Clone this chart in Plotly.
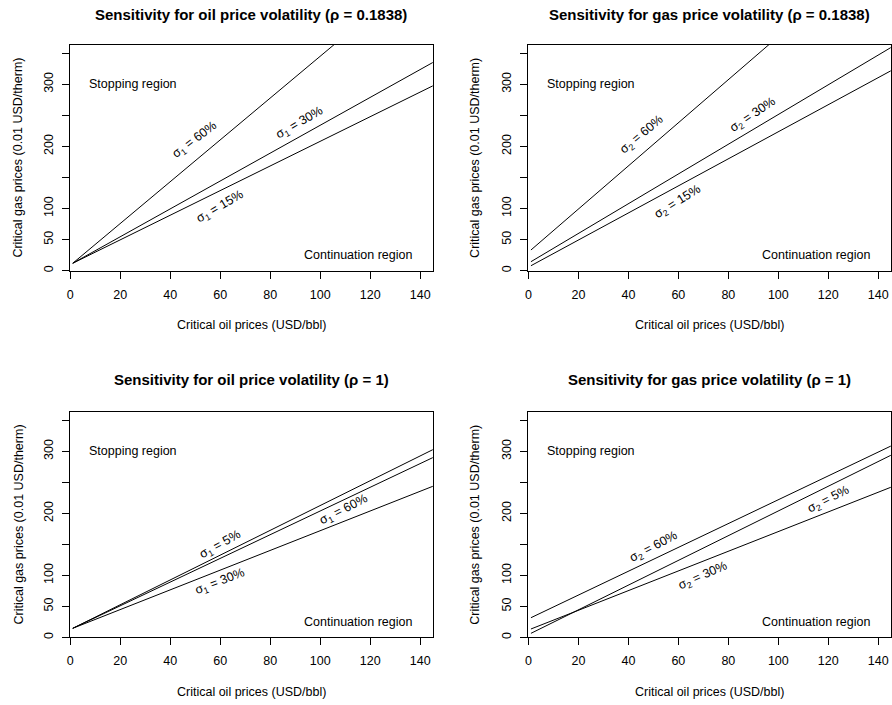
import plotly.graph_objects as go

# ---- data ----
x_ends = [1, 145]

titles = [
    "Sensitivity for oil price volatility (ρ = 0.1838)",
    "Sensitivity for gas price volatility (ρ = 0.1838)",
    "Sensitivity for oil price volatility (ρ = 1)",
    "Sensitivity for gas price volatility (ρ = 1)",
]

# panel 1: oil volatility, rho = 0.1838
p1_labels = ["σ<sub>1</sub> = 15%", "σ<sub>1</sub> = 30%", "σ<sub>1</sub> = 60%"]
p1_y = [[12, 297.4], [12, 335], [12, 496.6]]
p1_lab_x = [60, 92, 50]
p1_lab_y = [103, 237, 210]
p1_lab_ang = [30, 30, 37]

# panel 2: gas volatility, rho = 0.1838
p2_labels = ["σ<sub>2</sub> = 15%", "σ<sub>2</sub> = 30%", "σ<sub>2</sub> = 60%"]
p2_y = [[8, 321.6], [14.5, 359], [33.3, 533]]
p2_lab_x = [60, 90, 45.4]
p2_lab_y = [110, 250.7, 218.5]
p2_lab_ang = [32, 34, 40]

# panel 3: oil volatility, rho = 1
p3_labels = ["σ<sub>1</sub> = 5%", "σ<sub>1</sub> = 30%", "σ<sub>1</sub> = 60%"]
p3_y = [[14.5, 302.7], [14.5, 243.6], [14.5, 289.9]]
p3_lab_x = [60, 60, 109.6]
p3_lab_y = [148.6, 89.5, 205]
p3_lab_ang = [29, 21, 27]

# panel 4: gas volatility, rho = 1
p4_labels = ["σ<sub>2</sub> = 5%", "σ<sub>2</sub> = 30%", "σ<sub>2</sub> = 60%"]
p4_y = [[6.4, 293.6], [13.4, 242], [31.6, 308.5]]
p4_lab_x = [120, 70, 50.4]
p4_lab_y = [222, 98.7, 145]
p4_lab_ang = [27, 24, 28]

x_ticks = [0, 20, 40, 60, 80, 100, 120, 140]
y_ticks = [0, 50, 100, 150, 200, 250, 300, 350]
y_ticktext = ["0", "50", "100", "", "200", "", "300", ""]

x_title = "Critical oil prices (USD/bbl)"
y_title = "Critical gas prices (0.01 USD/therm)"
stop_text, stop_pos = "Stopping region", (25, 300)
cont_text, cont_pos = "Continuation region", (115, 25)

panels = [
    (p1_labels, p1_y, p1_lab_x, p1_lab_y, p1_lab_ang),
    (p2_labels, p2_y, p2_lab_x, p2_lab_y, p2_lab_ang),
    (p3_labels, p3_y, p3_lab_x, p3_lab_y, p3_lab_ang),
    (p4_labels, p4_y, p4_lab_x, p4_lab_y, p4_lab_ang),
]

# ---- layout geometry (pixels) ----
W, H = 892, 705
FONT = "Liberation Sans, Arial, Helvetica, sans-serif"
px_x = [(69.5, 433.0), (527.7, 891.0), (69.5, 433.0), (527.7, 891.0)]
px_y = [(44.5, 270.7), (44.5, 270.7), (411.7, 637.3), (411.7, 637.3)]

fig = go.Figure()
annotations = []
layout = {}

def txt(**kw):
    d = dict(showarrow=False, xanchor="center", yanchor="middle",
             font=dict(family=FONT, size=12.5, color="black"))
    d.update(kw)
    return d

for i, (labs, ys, lx, ly, la) in enumerate(panels):
    n = "" if i == 0 else str(i + 1)
    xa, ya = "x" + n, "y" + n
    x0, x1 = px_x[i]
    y0, y1 = px_y[i]
    dx = [x0 / W, x1 / W]
    dy = [(H - y1) / H, (H - y0) / H]
    for yv in ys:
        fig.add_trace(go.Scatter(x=x_ends, y=yv, mode="lines",
                                 line=dict(color="black", width=1),
                                 xaxis=xa, yaxis=ya, showlegend=False,
                                 hoverinfo="skip"))
    axcommon = dict(showline=True, linecolor="black", linewidth=1, mirror=True,
                    ticks="outside", ticklen=7, tickcolor="black", tickwidth=1,
                    showgrid=False, zeroline=False, automargin=False,
                    tickfont=dict(family=FONT, size=12.5, color="black"))
    layout["xaxis" + n] = dict(domain=dx, range=[-0.3, 145.1], tickvals=x_ticks,
                               anchor=ya, ticklabelstandoff=5, **axcommon)
    layout["yaxis" + n] = dict(domain=dy, range=[0, 364], tickvals=y_ticks,
                               ticktext=y_ticktext, tickangle=-90,
                               ticklabelstandoff=4,
                               anchor=xa, **axcommon)
    # curve labels
    for t, xx, yy, ang in zip(labs, lx, ly, la):
        annotations.append(txt(x=xx, y=yy, xref=xa, yref=ya, text=t,
                               textangle=-ang))
    annotations.append(txt(x=stop_pos[0], y=stop_pos[1], xref=xa, yref=ya,
                           text=stop_text))
    annotations.append(txt(x=cont_pos[0], y=cont_pos[1], xref=xa, yref=ya,
                           text=cont_text))
    # titles
    cx = (x0 + x1) / 2 / W
    ty = 14 if i < 2 else 379.3
    annotations.append(txt(x=cx, y=(H - ty) / H, xref="paper", yref="paper",
                           text="<b>" + titles[i] + "</b>",
                           font=dict(family=FONT, size=15, color="black")))
    xty = 325 if i < 2 else 691.7
    annotations.append(txt(x=cx, y=(H - xty) / H, xref="paper", yref="paper",
                           text=x_title))
    ytx = 18 if i % 2 == 0 else 474.3
    annotations.append(txt(x=ytx / W, y=(H - (y0 + y1) / 2) / H, xref="paper",
                           yref="paper", text=y_title, textangle=-90))

fig.update_layout(width=W, height=H, margin=dict(l=0, r=0, t=0, b=0),
                  paper_bgcolor="white", plot_bgcolor="white",
                  annotations=annotations, **layout)
fig.write_html("out.html", config={"displayModeBar": False},
               post_script="document.body.style.margin='0';document.body.style.padding='0';")
